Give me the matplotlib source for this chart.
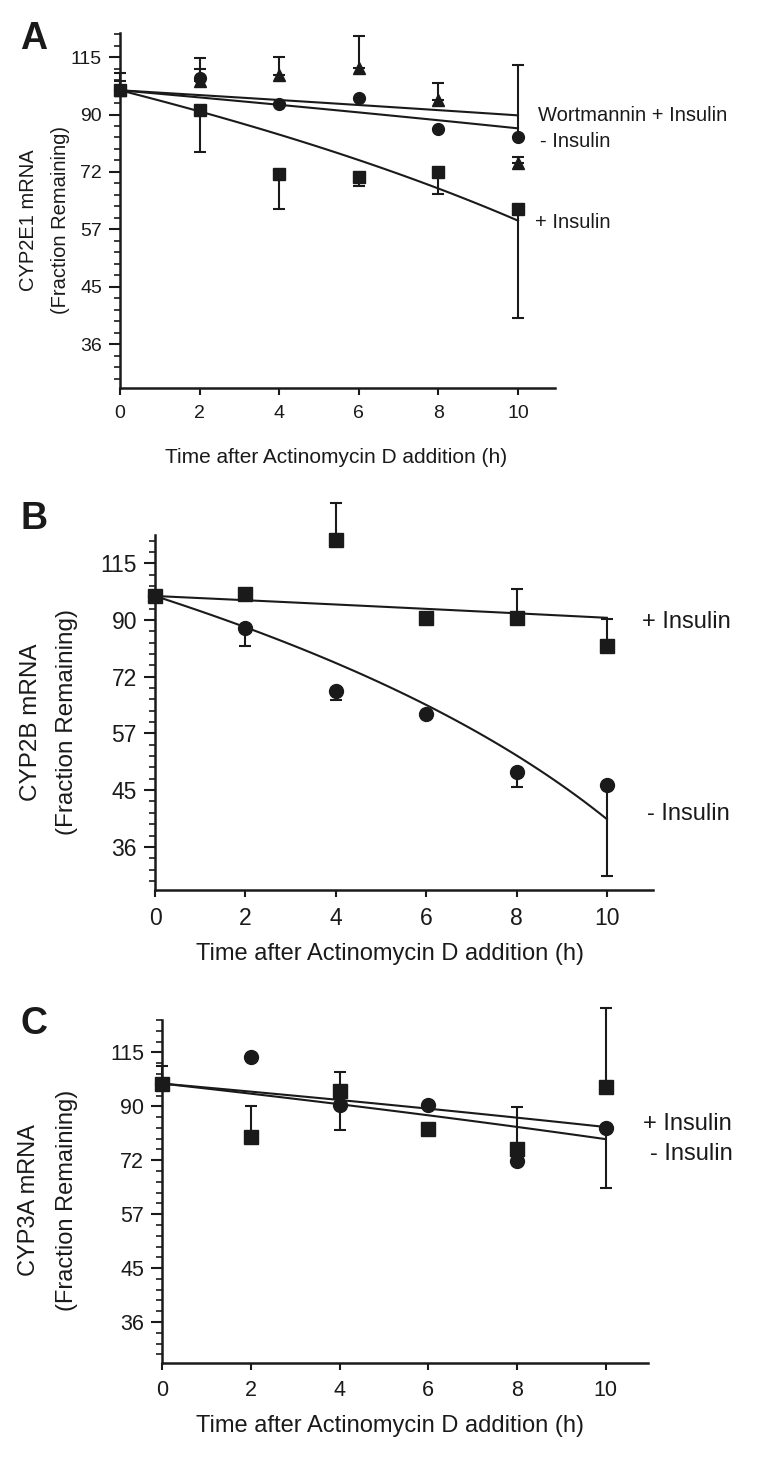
import matplotlib

matplotlib.use("Agg")
import matplotlib.pyplot as plt
import numpy as np
from matplotlib.ticker import FixedLocator, NullFormatter

plt.rcParams["font.family"] = ["Liberation Sans", "DejaVu Sans"]

INK = "#1a1a1a"
W, H = 758, 1459

# sampling times (h)
T = [0, 2, 4, 6, 8, 10]

# y-axis tick labels (log2 spaced, thirds of an octave)
YTICK_LABELS = ["36", "45", "57", "72", "90", "115"]
XTICKS = [0, 2, 4, 6, 8, 10]

# ---- panel A: CYP2E1 ----
A_minus = [100, 105, 94.5, 97, 85.5, 82.8]          # circles, - Insulin
A_minus_hi = [4, 4, 0, 0, 0, 28]
A_plus = [100, 92.4, 71.5, 70.5, 72, 62]            # squares, + Insulin
A_plus_lo = [0, 14.4, 9.5, 2.5, 6, 22]
A_wort = [100, 104, 106.3, 109.2, 96, 74.6]         # triangles, Wortmannin + Insulin
A_wort_hi = [7, 10, 8, 15, 7, 2]
# fitted lines: value at t=0 and slope per hour
A_fit = {"wort": (100, -0.96), "minus": (100, -1.42), "plus": (100, -4.08)}

# ---- panel B: CYP2B ----
B_plus = [100, 101, 125.5, 91.5, 91.5, 81.7]        # squares, + Insulin
B_plus_hi = [0, 0, 20.3, 0, 11.5, 9.3]
B_minus = [100, 87.8, 68, 61.8, 48.8, 46.4]         # circles, - Insulin
B_minus_lo = [0, 6.1, 2.4, 0, 2.8, 14.4]
B_fit = {"plus": (100, -0.85), "minus": (100, -5.97)}

# ---- panel C: CYP3A ----
C_sq = [100, 79.5, 96.7, 82.4, 75.4, 98.4]
C_sq_hi = [8, 11.5, 8.3, 0, 15, 39.6]
C_circ = [100, 112, 91.4, 91.4, 71.8, 82.8]
C_circ_lo = [0, 0, 9.4, 0, 0, 18.9]
C_fit = {"plus": (100, -1.70), "minus": (100, -2.12)}


def box(left, top, right, bottom):
    return [left / W, 1 - bottom / H, (right - left) / W, (bottom - top) / H]


def style_axes(ax, xmax, ytop, tick_fs, lab_fs, xlabel_xy):
    ax.set_yscale("log")
    ax.set_xlim(0, xmax)
    ax.set_ylim(30.2, ytop)
    for side in ("top", "right"):
        ax.spines[side].set_visible(False)
    for side in ("left", "bottom"):
        ax.spines[side].set_linewidth(1.8)
        ax.spines[side].set_color(INK)
    ypos = 36 * 2 ** (np.arange(len(YTICK_LABELS)) / 3)
    ax.yaxis.set_major_locator(FixedLocator(ypos))
    ax.set_yticklabels(YTICK_LABELS)
    ax.yaxis.set_minor_locator(FixedLocator(36 * 2 ** (np.arange(-3, 29) / 15)))
    ax.yaxis.set_minor_formatter(NullFormatter())
    ax.set_xticks(XTICKS)
    ax.tick_params(axis="y", which="major", direction="out", length=8, width=1.5,
                   pad=5, labelsize=tick_fs, colors=INK)
    ax.tick_params(axis="y", which="minor", direction="out", length=4, width=1.2, colors=INK)
    ax.tick_params(axis="x", direction="out", length=5, width=1.5, pad=7,
                   labelsize=tick_fs, colors=INK)
    ax.set_xlabel("Time after Actinomycin D addition (h)", fontsize=lab_fs, color=INK)
    ax.xaxis.set_label_coords(*xlabel_xy)


def fit_line(ax, fit):
    tt = np.linspace(0, 10, 60)
    a, b = fit
    ax.plot(tt, a + b * tt, color=INK, lw=1.5, zorder=2)


def points(ax, y, lo, hi, marker, ms):
    cont = ax.errorbar(T, y, yerr=[lo, hi], fmt=marker, ms=ms, color=INK, mfc=INK, mec=INK,
                       ecolor=INK, elinewidth=1.5, capsize=4.5, capthick=1.5, zorder=3)
    data_line, caps, bars = cont.lines
    for art in [data_line, *caps, *bars]:
        art.set_clip_on(False)


fig = plt.figure(figsize=(W / 100, H / 100), dpi=100)

# panel A
axA = fig.add_axes(box(120, 33, 555, 388))
zeros = [0] * 6
for key in ("wort", "minus", "plus"):
    fit_line(axA, A_fit[key])
points(axA, A_wort, zeros, A_wort_hi, "^", 8)
points(axA, A_minus, zeros, A_minus_hi, "o", 8.5)
points(axA, A_plus, A_plus_lo, zeros, "s", 9)
style_axes(axA, 10.93, 125.9, 14, 15, (0.497, -0.17))
lab = dict(fontsize=14.5, color=INK, ha="left", va="center")
axA.text(10.5, 90.3, "Wortmannin + Insulin", **lab)
axA.text(10.55, 81.3, "- Insulin", **lab)
axA.text(10.43, 58.8, "+ Insulin", **lab)

# panel B
axB = fig.add_axes(box(155, 535, 653, 890))
for key in ("plus", "minus"):
    fit_line(axB, B_fit[key])
points(axB, B_plus, zeros, B_plus_hi, "s", 10.5)
points(axB, B_minus, B_minus_lo, zeros, "o", 10)
style_axes(axB, 11.02, 128.2, 16.5, 17, (0.472, -0.15))
lab = dict(fontsize=17, color=INK, ha="left", va="center")
axB.text(10.77, 90.0, "+ Insulin", **lab)
axB.text(10.88, 41.1, "- Insulin", **lab)

# panel C
axC = fig.add_axes(box(162, 1020, 648, 1363))
for key in ("plus", "minus"):
    fit_line(axC, C_fit[key])
points(axC, C_sq, zeros, C_sq_hi, "s", 10)
points(axC, C_circ, C_circ_lo, zeros, "o", 10)
style_axes(axC, 10.95, 131.3, 15.5, 17, (0.469, -0.153))
axC.text(10.83, 84.0, "+ Insulin", **lab)
axC.text(10.99, 73.8, "- Insulin", **lab)

# panel letters and two-line y labels
for letter, ly, line1, line2, yc, fs, x1, x2 in [
    ("A", 39, "CYP2E1 mRNA", "(Fraction Remaining)", 220, 14.5, 29, 60),
    ("B", 519, "CYP2B mRNA", "(Fraction Remaining)", 722, 17.5, 31, 67),
    ("C", 1024, "CYP3A mRNA", "(Fraction Remaining)", 1200, 17, 29, 67),
]:
    fig.text(34 / W, 1 - ly / H, letter, fontsize=27, fontweight="bold", color=INK,
             ha="center", va="center")
    fig.text(x1 / W, 1 - yc / H, line1, fontsize=fs, rotation=90, color=INK,
             ha="center", va="center")
    fig.text(x2 / W, 1 - yc / H, line2, fontsize=fs, rotation=90, color=INK,
             ha="center", va="center")

fig.savefig("out.png", dpi=100)
